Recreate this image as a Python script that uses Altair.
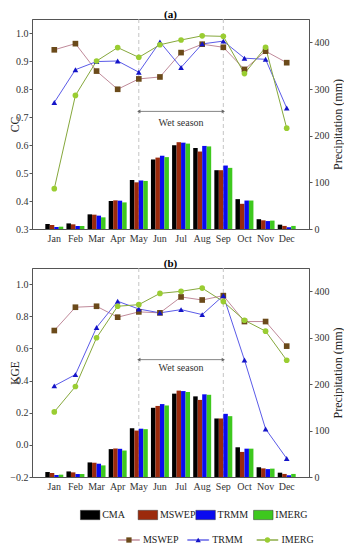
import altair as alt
import pandas as pd

months = ["Jan", "Feb", "Mar", "Apr", "May", "Jun", "Jul", "Aug", "Sep", "Oct", "Nov", "Dec"]
products = ["CMA", "MSWEP", "TRMM", "IMERG"]
series = ["MSWEP", "TRMM", "IMERG"]
wet_months = ["May", "Sep"]

precip_cma = [10.7, 12, 31.4, 60, 105, 149, 179.5, 173.6, 126, 64, 21, 9.3]
precip_mswep = [8.6, 10, 30.7, 61.4, 100, 153, 186, 166, 126, 54, 18.6, 6.6]
precip_trmm = [4.3, 6.4, 28.6, 60.7, 104, 157, 185, 178, 136, 61, 17, 3.6]
precip_imerg = [5, 6.4, 25, 57, 103, 154, 183, 177, 131, 61, 18, 6.6]

cc_mswep = [0.94, 0.962, 0.864, 0.799, 0.836, 0.843, 0.93, 0.96, 0.949, 0.87, 0.935, 0.894]
cc_trmm = [0.752, 0.869, 0.898, 0.9, 0.86, 0.968, 0.877, 0.961, 0.971, 0.91, 0.906, 0.732]
cc_imerg = [0.444, 0.777, 0.9, 0.948, 0.913, 0.958, 0.975, 0.99, 0.988, 0.855, 0.949, 0.66]

kge_mswep = [0.711, 0.856, 0.862, 0.794, 0.827, 0.821, 0.92, 0.901, 0.928, 0.767, 0.767, 0.614]
kge_trmm = [0.367, 0.437, 0.73, 0.893, 0.845, 0.821, 0.841, 0.81, 0.928, 0.528, 0.099, -0.085]
kge_imerg = [0.205, 0.363, 0.666, 0.862, 0.872, 0.942, 0.955, 0.975, 0.891, 0.775, 0.707, 0.526]

bar_colors = ["#000000", "#9B2A0C", "#0A0AF0", "#3EC81E"]
line_colors = ["#C08A9A", "#5B5BE8", "#86A83C"]
marker_colors = ["#6B4A1A", "#1414C8", "#9ACD32"]
marker_shapes = ["square", "triangle-up", "circle"]

FONT = "Liberation Serif"

bar_rows = []
for p, vals in zip(products, [precip_cma, precip_mswep, precip_trmm, precip_imerg]):
    for m, v in zip(months, vals):
        bar_rows.append({"month": m, "product": p, "precip": v})
bar_df = pd.DataFrame(bar_rows)


def long_df(lists):
    rows = []
    for s, vals in zip(series, lists):
        for m, v in zip(months, vals):
            rows.append({"month": m, "series": s, "value": v})
    return pd.DataFrame(rows)


cc_df = long_df([cc_mswep, cc_trmm, cc_imerg])
kge_df = long_df([kge_mswep, kge_trmm, kge_imerg])

x_scale = alt.Scale(domain=months, paddingInner=0.15, paddingOuter=0.63)
x_axis = alt.Axis(title=None, labelAngle=0, ticks=False, labelPadding=4,
                  labelFontSize=10, domain=True)
fill_scale = alt.Scale(domain=products, range=bar_colors)
stroke_scale = alt.Scale(domain=series, range=line_colors)
color_scale = alt.Scale(domain=series, range=marker_colors)
shape_scale = alt.Scale(domain=series, range=marker_shapes)


def xenc(field="month"):
    return alt.X(f"{field}:N", sort=months, scale=x_scale, axis=x_axis)


def panel(title, metric, df, dom, ticks, arrow_y, text_y, h):
    left_axis = alt.Axis(title=metric, values=ticks, format=".1f", orient="left",
                         tickSize=3, labelPadding=1, titlePadding=0, maxExtent=12, minExtent=12,
                         labelFontSize=10, titleFontSize=11.5, titleFontWeight="normal")
    yl_scale = alt.Scale(domain=dom, nice=False, zero=False)

    def yenc(field=None, datum=None):
        if datum is not None:
            return alt.Y(datum=datum, type="quantitative", scale=yl_scale, axis=left_axis)
        return alt.Y(f"{field}:Q", scale=yl_scale, axis=left_axis)

    wet_df = pd.DataFrame({"month": wet_months})
    rules = alt.Chart(wet_df).mark_rule(color="#bdbdbd", strokeDash=[4, 3], strokeWidth=0.9).encode(
        x=xenc())

    bars = alt.Chart(bar_df).mark_bar(strokeWidth=0).encode(
        x=xenc(),
        xOffset=alt.XOffset("product:N", sort=products, scale=alt.Scale(paddingInner=0)),
        y=alt.Y("precip:Q", scale=alt.Scale(domain=[0, 450], nice=False),
                axis=alt.Axis(title="Precipitation (mm)", orient="right", values=[0, 100, 200, 300, 400],
                              tickSize=3, labelPadding=2, titlePadding=3, titleAngle=270,
                              titleBaseline="top",
                              labelFontSize=10, titleFontSize=12, titleFontWeight="normal")),
        fill=alt.Fill("product:N", scale=fill_scale, legend=None),
    )

    arrow_df = pd.DataFrame({"start": [wet_months[0]], "end": [wet_months[1]]})
    arrow = alt.Chart(arrow_df).mark_rule(color="#666", strokeWidth=0.8).encode(
        x=xenc("start"), x2="end:N", y=yenc(datum=arrow_y))
    head_l = alt.Chart(pd.DataFrame({"month": [wet_months[0]]})).mark_point(
        shape="triangle-left", filled=True, size=14, color="#666", opacity=1).encode(
        x=xenc(), y=yenc(datum=arrow_y))
    head_r = alt.Chart(pd.DataFrame({"month": [wet_months[1]]})).mark_point(
        shape="triangle-right", filled=True, size=14, color="#666", opacity=1).encode(
        x=xenc(), y=yenc(datum=arrow_y))
    label = alt.Chart(pd.DataFrame({"month": ["Jul"], "t": ["Wet season"]})).mark_text(
        font=FONT, fontSize=10, color="#333").encode(
        x=xenc(), y=yenc(datum=text_y), text="t:N")

    lines = alt.Chart(df).mark_line(strokeWidth=1).encode(
        x=xenc(), y=yenc("value"),
        stroke=alt.Stroke("series:N", scale=stroke_scale, legend=None))
    points = alt.Chart(df).mark_point(filled=True, size=32, opacity=1).encode(
        x=xenc(), y=yenc("value"),
        color=alt.Color("series:N", scale=color_scale, legend=None),
        shape=alt.Shape("series:N", scale=shape_scale, legend=None))

    left = alt.layer(arrow, head_l, head_r, label, lines, points)
    return alt.layer(rules, bars, left).resolve_scale(y="independent").properties(
        width=277, height=h,
        title=alt.TitleParams(title, fontSize=11, fontWeight="bold", font=FONT, offset=-1))


pa = panel("(a)", "CC", cc_df, [0.3, 1.05], [0.3, 0.4, 0.5, 0.6, 0.7, 0.8, 0.9, 1.0], 0.72, 0.678, 210)
pb = panel("(b)", "KGE", kge_df, [-0.2, 1.1], [-0.2, 0.0, 0.2, 0.4, 0.6, 0.8, 1.0], 0.53, 0.475, 209)

# legend
leg_bar_df = pd.DataFrame({"product": products})
leg_line_df = pd.DataFrame({"series": series})
bx = alt.X("product:N", sort=products, axis=None,
           scale=alt.Scale(type="point", padding=0.9, align=0.56))
lx = alt.X("series:N", sort=series, axis=None,
           scale=alt.Scale(type="point", padding=1.19, align=0.7))

sw = alt.Chart(leg_bar_df).mark_point(
    shape="M-1,-0.48H1V0.48H-1Z", filled=True, size=380, opacity=1,
    stroke="#333", strokeWidth=0.5).encode(
    x=bx, y=alt.value(9), fill=alt.Fill("product:N", scale=fill_scale, legend=None))
swt = alt.Chart(leg_bar_df).mark_text(align="left", dx=12, font=FONT, fontSize=10, color="#222").encode(
    x=bx, y=alt.value(9), text="product:N")
bar_leg = alt.layer(sw, swt)

lt = alt.Chart(leg_line_df).mark_tick(orient="horizontal", size=21, thickness=1).encode(
    x=lx, y=alt.value(34), stroke=alt.Stroke("series:N", scale=stroke_scale, legend=None))
lp = alt.Chart(leg_line_df).mark_point(filled=True, size=28, opacity=1).encode(
    x=lx, y=alt.value(34),
    color=alt.Color("series:N", scale=color_scale, legend=None),
    shape=alt.Shape("series:N", scale=shape_scale, legend=None))
ltx = alt.Chart(leg_line_df).mark_text(align="left", dx=14, font=FONT, fontSize=10, color="#222").encode(
    x=lx, y=alt.value(34), text="series:N")
line_leg = alt.layer(lt, lp, ltx)

legend = alt.layer(bar_leg, line_leg).resolve_scale(x="independent").properties(
    width=277, height=42, view=alt.ViewConfig(stroke="transparent"))

chart = alt.vconcat(pa, pb, legend, spacing=13).properties(
    padding={"left": 0, "top": 0, "right": 0, "bottom": 0}
).configure(font=FONT).configure_view(stroke="#555", strokeWidth=1).configure_axis(
    labelFont=FONT, titleFont=FONT, labelColor="#333", titleColor="#222",
    domainColor="#555", tickColor="#555", grid=False
)

chart.save("out.html", embed_options={"renderer": "svg", "actions": False})
